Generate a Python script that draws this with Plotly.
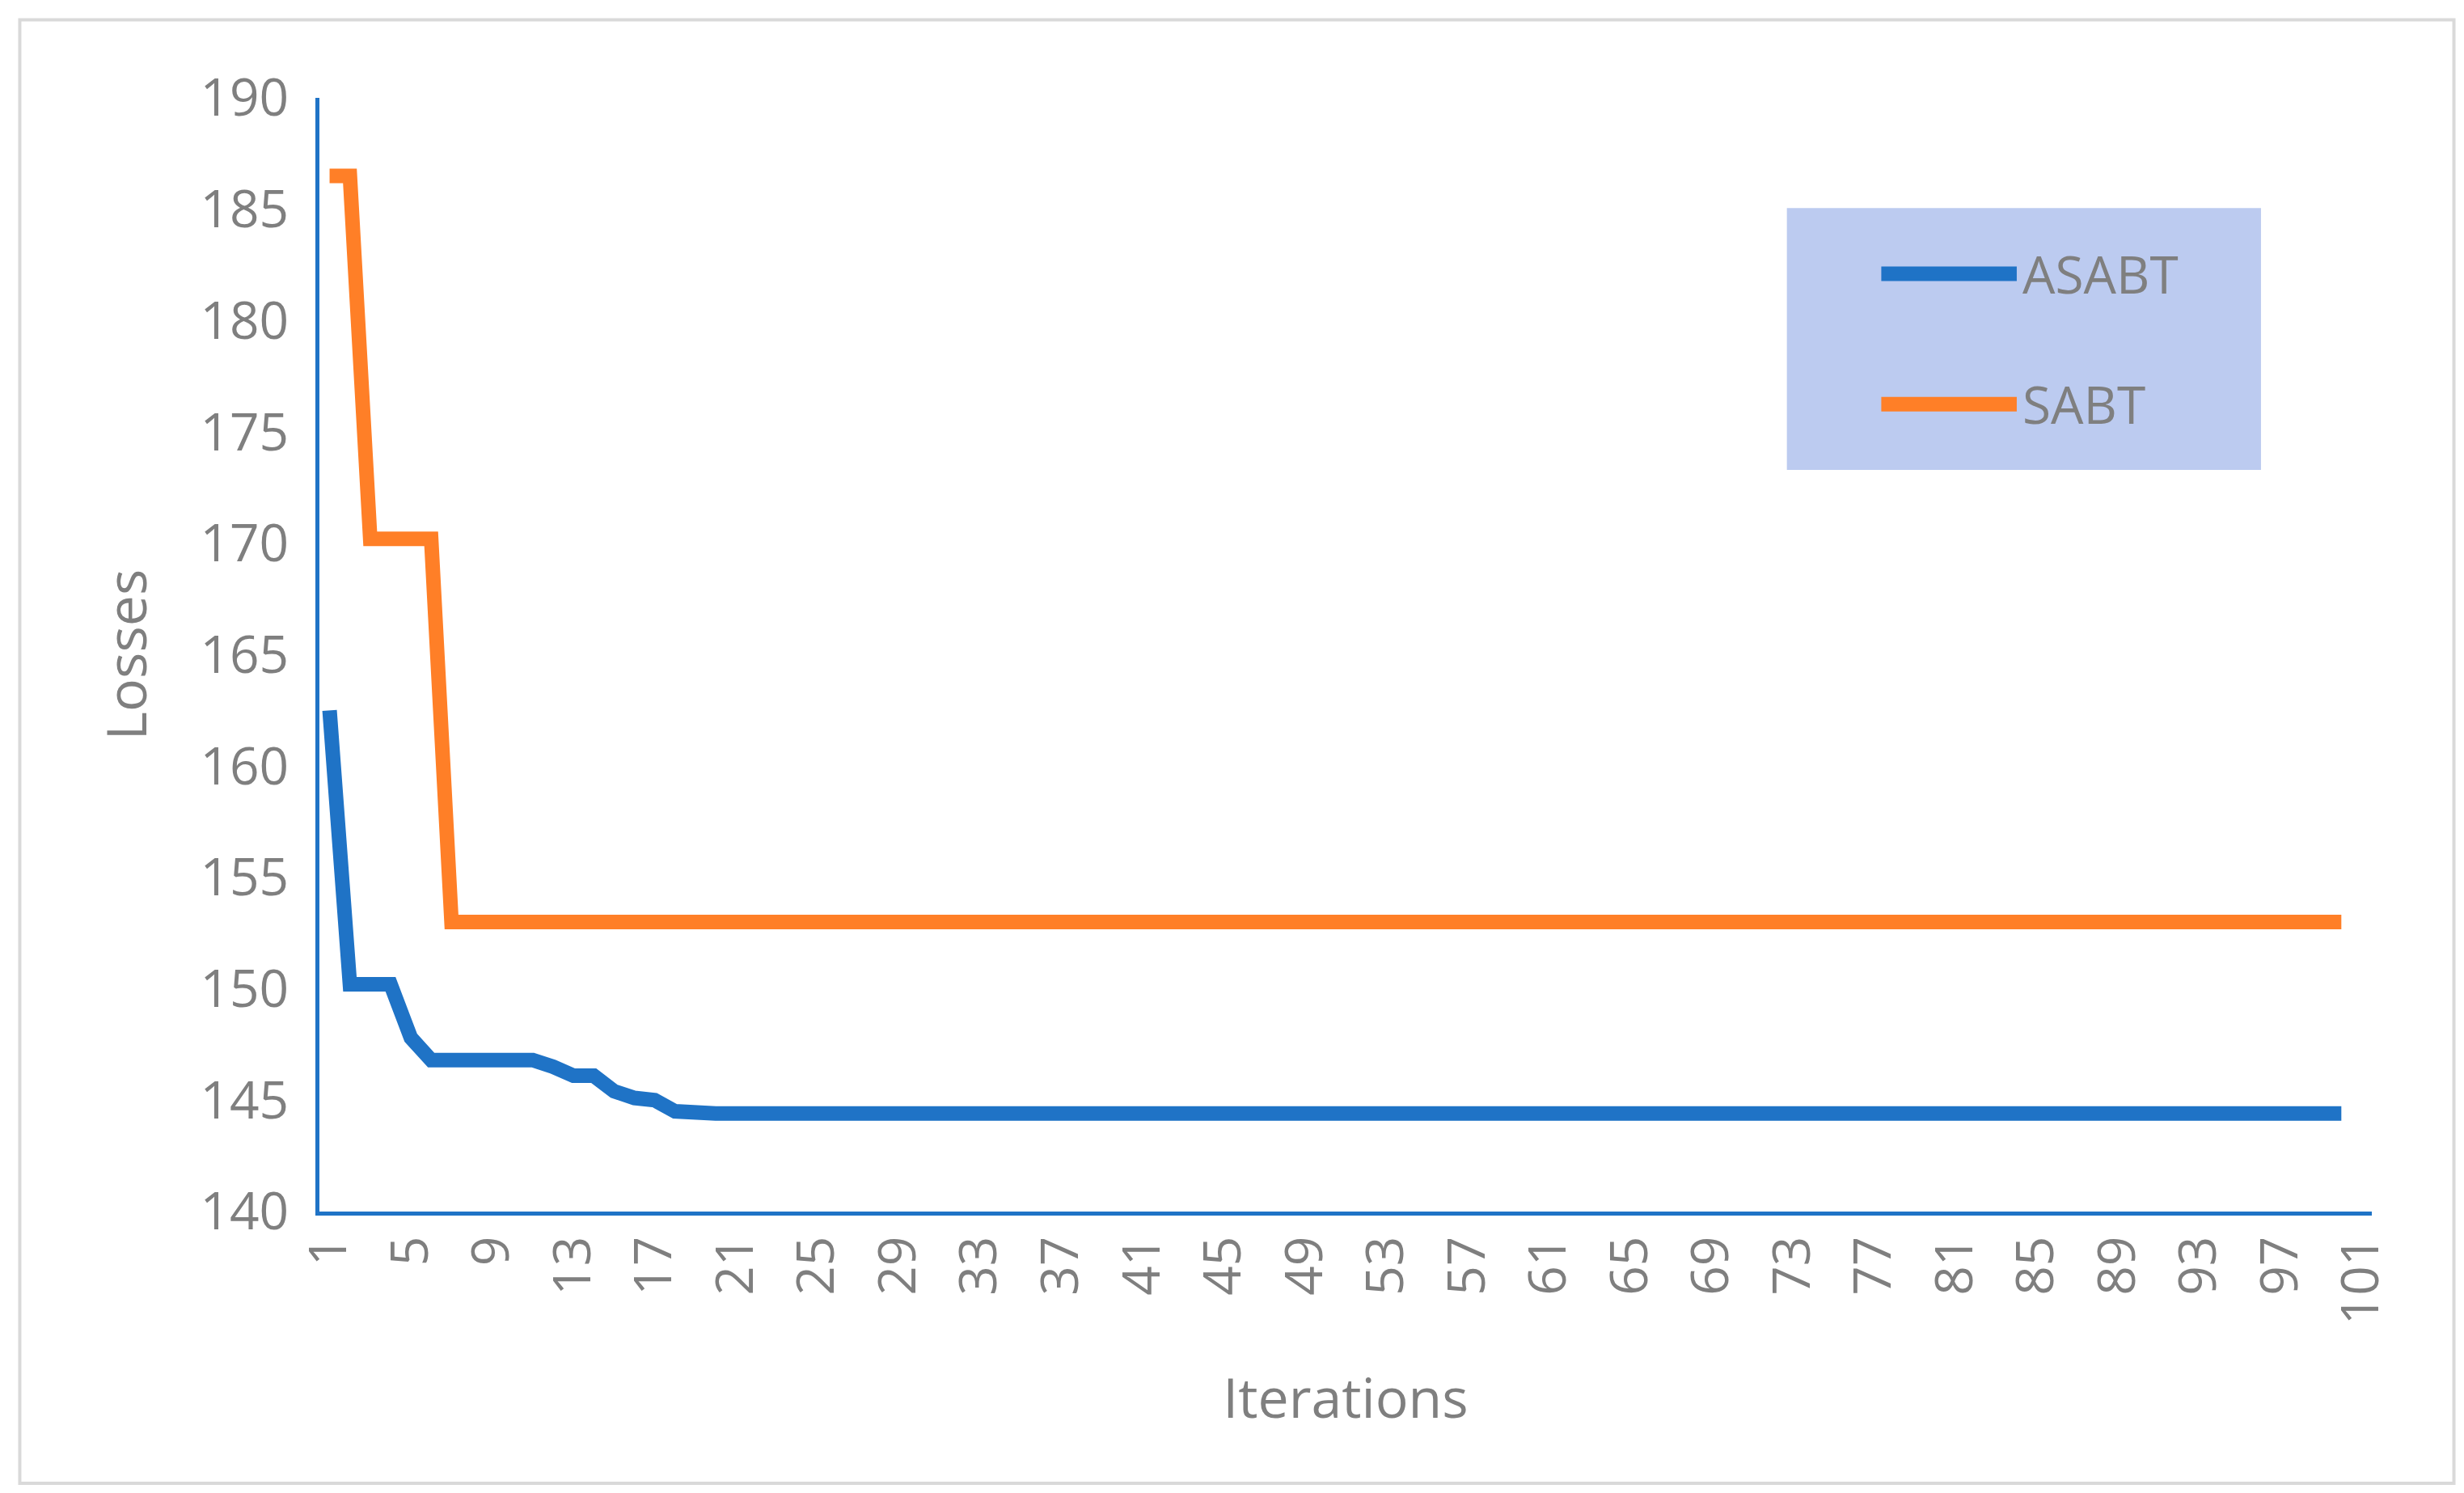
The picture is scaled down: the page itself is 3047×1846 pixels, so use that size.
import plotly.graph_objects as go

iterations = list(range(1, 101))
asabt_head = [162.5, 150.2, 150.2, 150.2, 147.8, 146.8, 146.8, 146.8, 146.8, 146.8,
              146.8, 146.5, 146.1, 146.1, 145.4, 145.1, 145.0, 144.5]
asabt = asabt_head + [144.4] * (100 - len(asabt_head))
sabt_head = [186.5, 186.5, 170.2, 170.2, 170.2, 170.2]
sabt = sabt_head + [153.0] * (100 - len(sabt_head))
tick_vals = list(range(1, 102, 4))

GREY = '#7f7f7f'
BLUE = '#1f73c6'
ORANGE = '#ff7f27'

fig = go.Figure()
fig.add_trace(go.Scatter(x=iterations, y=asabt, mode='lines', name='ASABT',
                         line=dict(color=BLUE, width=18), showlegend=False))
fig.add_trace(go.Scatter(x=iterations, y=sabt, mode='lines', name='SABT',
                         line=dict(color=ORANGE, width=18), showlegend=False))

# hand-drawn legend box (Excel style)
shapes = [
    dict(type='rect', xref='paper', yref='paper', x0=-0.146, x1=1.040, y0=-0.244, y1=1.070,
         line=dict(color='#d9d9d9', width=4)),
    dict(type='rect', xref='paper', yref='paper', x0=0.715, x1=0.946, y0=0.666, y1=0.901,
         fillcolor='#bccbf0', line=dict(width=0), layer='below'),
    dict(type='line', xref='paper', yref='paper', x0=0.761, x1=0.827, y0=0.842, y1=0.842,
         line=dict(color=BLUE, width=18)),
    dict(type='line', xref='paper', yref='paper', x0=0.761, x1=0.827, y0=0.725, y1=0.725,
         line=dict(color=ORANGE, width=18)),
]
annotations = [
    dict(text='ASABT', xref='paper', yref='paper', x=0.829, y=0.842, xanchor='left',
         yanchor='middle', showarrow=False, font=dict(size=64, color=GREY)),
    dict(text='SABT', xref='paper', yref='paper', x=0.829, y=0.725, xanchor='left',
         yanchor='middle', showarrow=False, font=dict(size=64, color=GREY)),
]

fig.update_layout(
    width=3047, height=1846,
    paper_bgcolor='white', plot_bgcolor='white',
    margin=dict(l=387, r=3047 - 2925, t=113, b=1846 - 1490),
    font=dict(family='Open Sans', color=GREY, size=64),
    xaxis=dict(range=[0.5, 101.5], tickvals=tick_vals, tickangle=-90,
               showline=True, linecolor=BLUE, linewidth=5, showgrid=False,
               zeroline=False, ticks='',
               title=dict(text='Iterations', font=dict(size=68), standoff=70)),
    yaxis=dict(range=[140, 190], dtick=5, showline=True, linecolor=BLUE,
               linewidth=5, showgrid=False, zeroline=False, ticks='outside',
               ticklen=20, tickcolor='rgba(0,0,0,0)',
               title=dict(text='Losses', font=dict(size=68), standoff=45)),
    shapes=shapes,
    annotations=annotations,
)
fig.write_html('out.html')
